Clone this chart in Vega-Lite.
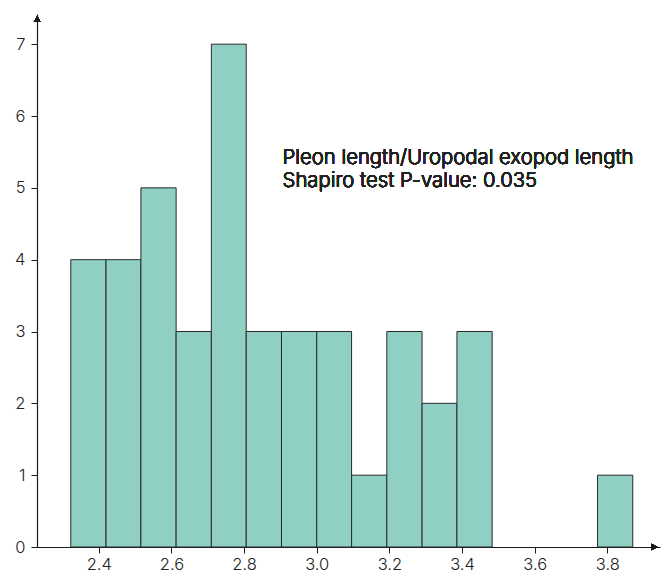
{
  "$schema": "https://vega.github.io/schema/vega-lite/v6.json",
  "autosize": {"type": "none"},
  "padding": {"left": 37, "top": 14, "right": 5, "bottom": 27},
  "width": 623,
  "height": 533,
  "background": "white",
  "config": {"view": {"stroke": null}, "font": "Inter"},
  "data": {"values": [
    {"x0": 2.323, "x1": 2.420, "count": 4},
    {"x0": 2.420, "x1": 2.516, "count": 4},
    {"x0": 2.516, "x1": 2.613, "count": 5},
    {"x0": 2.613, "x1": 2.710, "count": 3},
    {"x0": 2.710, "x1": 2.806, "count": 7},
    {"x0": 2.806, "x1": 2.903, "count": 3},
    {"x0": 2.903, "x1": 3.000, "count": 3},
    {"x0": 3.000, "x1": 3.096, "count": 3},
    {"x0": 3.096, "x1": 3.193, "count": 1},
    {"x0": 3.193, "x1": 3.290, "count": 3},
    {"x0": 3.290, "x1": 3.386, "count": 2},
    {"x0": 3.386, "x1": 3.483, "count": 3},
    {"x0": 3.483, "x1": 3.580, "count": 0},
    {"x0": 3.580, "x1": 3.676, "count": 0},
    {"x0": 3.676, "x1": 3.773, "count": 0},
    {"x0": 3.773, "x1": 3.870, "count": 1}
  ]},
  "layer": [
    {
      "mark": {"type": "bar", "fill": "#90cfc3", "stroke": "#2a2a2a", "strokeWidth": 1},
      "transform": [{"filter": "datum.count > 0"}],
      "encoding": {
        "x": {"field": "x0", "type": "quantitative",
              "scale": {"domain": [2.23, 3.945], "nice": false, "zero": false},
              "axis": {"title": null, "values": [2.4, 2.6, 2.8, 3.0, 3.2, 3.4, 3.6, 3.8], "format": ".1f",
                       "grid": false, "domainColor": "#1a1a1a", "domainWidth": 1.2, "tickColor": "#1a1a1a",
                       "tickSize": 6, "labelFontSize": 16.5, "labelFontWeight": 300, "labelColor": "#222222", "labelPadding": 3}},
        "x2": {"field": "x1"},
        "y": {"field": "count", "type": "quantitative",
              "scale": {"domain": [0, 7.42], "nice": false},
              "axis": {"title": null, "values": [0, 1, 2, 3, 4, 5, 6, 7], "format": "d", "grid": false,
                       "domainColor": "#1a1a1a", "domainWidth": 1.2, "tickColor": "#1a1a1a",
                       "tickSize": 6, "labelFontSize": 16.5, "labelFontWeight": 300, "labelColor": "#222222", "labelPadding": 6}},
        "y2": {"datum": 0}
      }
    },
    {
      "mark": {"type": "point", "shape": "triangle-up", "filled": true, "fill": "#1a1a1a", "size": 45, "opacity": 1, "strokeWidth": 0},
      "encoding": {"x": {"datum": 2.2305}, "y": {"datum": 7.35}}
    },
    {
      "mark": {"type": "point", "shape": "triangle-right", "filled": true, "fill": "#1a1a1a", "size": 45, "opacity": 1, "strokeWidth": 0},
      "encoding": {"x": {"datum": 3.93}, "y": {"datum": 0}}
    },
    {
      "mark": {"type": "text", "align": "left", "baseline": "top", "fontSize": 20.3, "fontWeight": 300, "lineHeight": 23, "fill": "#222222", "strokeWidth": 0,
               "text": ["Pleon length/Uropodal exopod length", "Shapiro test P-value: 0.035"]},
      "encoding": {"x": {"datum": 2.906}, "y": {"datum": 5.55}}
    }
  ]
}
